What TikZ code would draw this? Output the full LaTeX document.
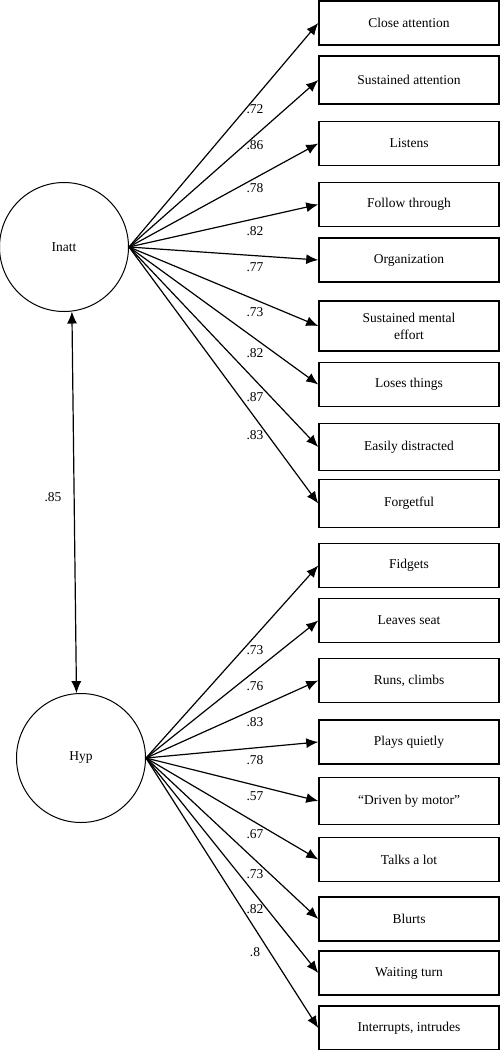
\documentclass[tikz,border=0pt]{standalone}
\usepackage{fontspec}
\setmainfont{Liberation Serif}
\usetikzlibrary{arrows.meta,positioning,shapes.geometric}
\tikzset{%
	item/.style   = {draw, rectangle, line width=1.5pt, minimum width=180pt, minimum height=44pt, align=center, font=\fontsize{13.5}{17}\selectfont},
	factor/.style = {draw, circle, line width=1pt, minimum size=129pt, inner sep=0pt, font=\fontsize{13.5}{16}\selectfont},
	load/.style   = {inner sep=1pt, font=\fontsize{13.5}{16}\selectfont}, % loading
	arrow/.style  = {line width=1.2pt, -{Latex[length=12pt,width=10pt]}},
}
\begin{document}
\begin{tikzpicture}[x=1pt,y=-1pt]
	\useasboundingbox (0,0) rectangle (500,1050);
	% latent factors
	\node[factor] (inatt) at (64,247) {Inatt};
	\node[factor] (hyp) at (81,758) {Hyp};
	% inattention items
	\node[item] (close) at (409,23) {Close attention};
	\node[item,minimum height=48pt] (sustain) at (409,80) {Sustained attention};
	\node[item] (listen) at (409,143.5) {Listens};
	\node[item] (follow) at (409,204.5) {Follow through};
	\node[item] (organ) at (409,260) {Organization};
	\node[item,minimum height=50pt] (mental) at (409,326) {Sustained mental\\effort};
	\node[item] (lose) at (409,384.5) {Loses things};
	\node[item,minimum height=47pt] (distract) at (409,447) {Easily distracted};
	\node[item,minimum height=48pt] (forget) at (409,503.5) {Forgetful};
	% hyperactivity items
	\node[item] (fidget) at (409,565.5) {Fidgets};
	\node[item] (seat) at (409,620.5) {Leaves seat};
	\node[item] (climb) at (409,680.5) {Runs, climbs};
	\node[item] (quiet) at (409,742) {Plays quietly};
	\node[item,minimum height=47pt] (motor) at (409,801) {“Driven by motor”};
	\node[item] (talk) at (409,859.5) {Talks a lot};
	\node[item] (blurt) at (409,919) {Blurts};
	\node[item] (wait) at (409,973) {Waiting turn};
	\node[item] (intrude) at (409,1028) {Interrupts, intrudes};
	% loadings
	\draw[arrow] (inatt.east) -- (close.west);
	\draw[arrow] (inatt.east) -- (sustain.west);
	\draw[arrow] (inatt.east) -- (listen.west);
	\draw[arrow] (inatt.east) -- (follow.west);
	\draw[arrow] (inatt.east) -- (organ.west);
	\draw[arrow] (inatt.east) -- (mental.west);
	\draw[arrow] (inatt.east) -- (lose.west);
	\draw[arrow] (inatt.east) -- (distract.west);
	\draw[arrow] (inatt.east) -- (forget.west);
	\draw[arrow] (hyp.east) -- (fidget.west);
	\draw[arrow] (hyp.east) -- (seat.west);
	\draw[arrow] (hyp.east) -- (climb.west);
	\draw[arrow] (hyp.east) -- (quiet.west);
	\draw[arrow] (hyp.east) -- (motor.west);
	\draw[arrow] (hyp.east) -- (talk.west);
	\draw[arrow] (hyp.east) -- (blurt.west);
	\draw[arrow] (hyp.east) -- (wait.west);
	\draw[arrow] (hyp.east) -- (intrude.west);
	\node[load] (lclose) at (255,109) {.72};
	\node[load] (lsustain) at (255,145) {.86};
	\node[load] (llisten) at (255,188) {.78};
	\node[load] (lfollow) at (255,231) {.82};
	\node[load] (lorgan) at (255,267) {.77};
	\node[load] (lmental) at (255,312) {.73};
	\node[load] (llose) at (255,353) {.82};
	\node[load] (ldistract) at (255,397) {.87};
	\node[load] (lforget) at (255,435) {.83};
	\node[load] (lfidget) at (255,650) {.73};
	\node[load] (lseat) at (255,686) {.76};
	\node[load] (lclimb) at (255,722) {.83};
	\node[load] (lquiet) at (255,760) {.78};
	\node[load] (lmotor) at (255,796) {.57};
	\node[load] (ltalk) at (255,834) {.67};
	\node[load] (lblurt) at (255,874) {.73};
	\node[load] (lwait) at (255,909) {.82};
	\node[load] (lintrude) at (255,952) {.8};
	% factor correlation
	\draw[arrow,{Latex[length=12pt,width=10pt]}-{Latex[length=12pt,width=10pt]}] (inatt.-83) -- (hyp.94);
	\node[load] (lcorr) at (53,497) {.85};
\end{tikzpicture}
\end{document}
